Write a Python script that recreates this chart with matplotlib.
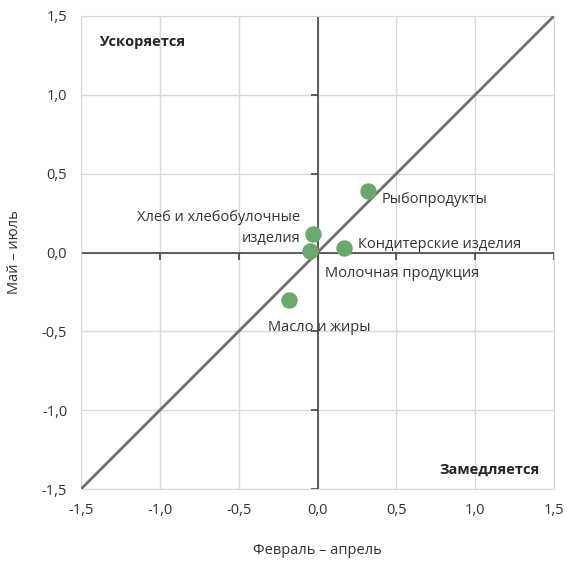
import matplotlib
matplotlib.use('Agg')
from matplotlib import pyplot as plt
from matplotlib.markers import TICKDOWN, TICKLEFT
import numpy as np

plt.rcParams['font.family'] = ['Open Sans', 'DejaVu Sans']

names = ['Рыбопродукты', 'Хлеб и хлебобулочные\nизделия', 'Кондитерские изделия',
         'Молочная продукция', 'Масло и жиры']
feb_apr = [0.32, -0.03, 0.17, -0.05, -0.18]
may_jul = [0.39, 0.12, 0.03, 0.01, -0.30]
ticks = [-1.5, -1.0, -0.5, 0.0, 0.5, 1.0, 1.5]
tick_labels = ['-1,5', '-1,0', '-0,5', '0,0', '0,5', '1,0', '1,5']

# label offsets in points and alignment
offsets = [(10, -6), (-9, 4), (10, 2), (11, -16), (-15, -20)]
aligns = ['left', 'right', 'left', 'left', 'left']

fig = plt.figure(figsize=(5.69, 5.61), dpi=100)
ax = fig.add_axes([0.1424, 0.1283, 0.8312, 0.8432])

ax.set_xlim(-1.5, 1.5)
ax.set_ylim(-1.5, 1.5)
ax.set_xticks(ticks)
ax.set_yticks(ticks)
ax.set_xticklabels(tick_labels)
ax.set_yticklabels(tick_labels)
ax.tick_params(length=0, labelsize=10.5, colors='#333333', pad=10)
ax.grid(True, color='#d9d9d9', lw=1)
ax.set_axisbelow(True)
for s in ax.spines.values():
    s.set_color('#d9d9d9')

ax.axhline(0, color='#454545', lw=1.2, zorder=2)
ax.axvline(0, color='#454545', lw=1.2, zorder=2)
ax.plot(ticks, np.zeros(len(ticks)), ls='none', marker=TICKDOWN, ms=5, mew=1.2, color='#454545', zorder=2)
ax.plot(np.zeros(len(ticks)), ticks, ls='none', marker=TICKLEFT, ms=5, mew=1.2, color='#454545', zorder=2)

ax.plot([-1.5, 1.5], [-1.5, 1.5], color='#6e6e6e', lw=2, zorder=3)
ax.scatter(feb_apr, may_jul, s=140, color='#6aa86b', zorder=4, linewidths=0)

for i in range(len(names)):
    ax.annotate(names[i], (feb_apr[i], may_jul[i]), xytext=offsets[i], textcoords='offset points',
                ha=aligns[i], va='center', fontsize=10.5, color='#333333', zorder=5,
                linespacing=1.6)

ax.text(0.04, 0.945, 'Ускоряется', transform=ax.transAxes, fontsize=10.5, fontweight='bold',
        color='#262626', ha='left', va='center')
ax.text(0.97, 0.04, 'Замедляется', transform=ax.transAxes, fontsize=10.5, fontweight='bold',
        color='#262626', ha='right', va='center')

ax.set_xlabel('Февраль – апрель', fontsize=10.5, color='#333333', labelpad=18)
ax.set_ylabel('Май – июль', fontsize=10.5, color='#333333', labelpad=14)

fig.savefig('out.png', dpi=100)
